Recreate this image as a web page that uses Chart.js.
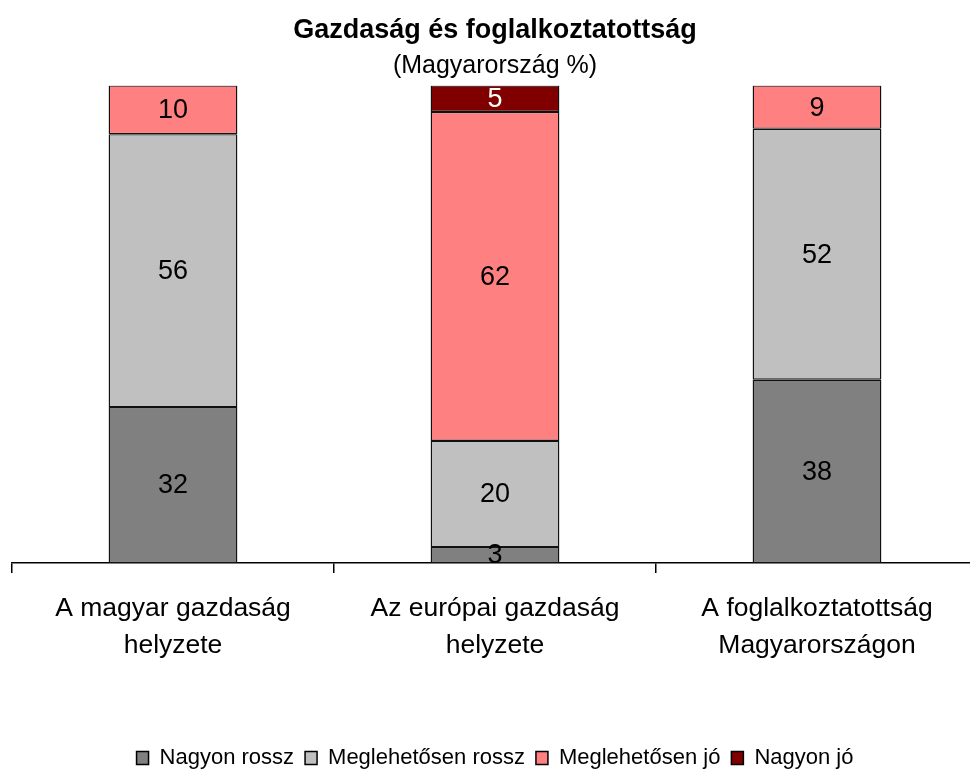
<!DOCTYPE html>
<html>
<head>
<meta charset="utf-8">
<script src="https://cdn.jsdelivr.net/npm/chart.js@4/dist/chart.umd.min.js"></script>
<style>
  html, body { margin: 0; padding: 0; background: #fff; overflow: hidden; }
  #wrap { width: 990px; height: 771px; }
</style>
</head>
<body>
<div id="wrap"><canvas id="chart" width="990" height="771"></canvas></div>
<script>
const categories = [
  ["A magyar gazdaság", "helyzete"],
  ["Az európai gazdaság", "helyzete"],
  ["A foglalkoztatottság", "Magyarországon"]
];
const seriesNames = ["Nagyon rossz", "Meglehetősen rossz", "Meglehetősen jó", "Nagyon jó"];
const nagyonRossz = [32, 3, 38];
const meglRossz = [56, 20, 52];
const meglJo = [10, 62, 9];
const nagyonJo = [0, 5, 0];
const colors = ["#808080", "#C0C0C0", "#FF8080", "#800000"];
const labelColors = ["#000", "#000", "#000", "#fff"];

const FONT = "'Liberation Sans', Arial, sans-serif";
const raw = [nagyonRossz, meglRossz, meglJo, nagyonJo];

// 100%-os halmozás: minden oszlop a saját összegére normálva
const totals = categories.map((c, i) => raw.reduce((s, arr) => s + arr[i], 0));

const datasets = raw.map((arr, k) => ({
  label: seriesNames[k],
  data: arr.map((v, i) => v / totals[i] * 100),
  rawValues: arr,
  backgroundColor: colors[k],
  borderColor: "#111",
  borderWidth: 1.4,
  borderSkipped: false,
  categoryPercentage: 1,
  barPercentage: 0.4
}));

// értékfeliratok a szegmensek közepére
const valueLabels = {
  id: "valueLabels",
  afterDatasetsDraw(chart) {
    const ctx = chart.ctx;
    ctx.save();
    ctx.font = "27px " + FONT;
    ctx.textAlign = "center";
    ctx.textBaseline = "middle";
    chart.data.datasets.forEach((ds, k) => {
      const meta = chart.getDatasetMeta(k);
      meta.data.forEach((bar, i) => {
        const v = ds.rawValues[i];
        if (!v) return;
        ctx.fillStyle = labelColors[k];
        ctx.fillText(String(v), bar.x, (bar.y + bar.base) / 2 + 1);
      });
    });
    ctx.restore();
  }
};

new Chart(document.getElementById("chart"), {
  type: "bar",
  data: { labels: categories, datasets },
  options: {
    responsive: false,
    animation: false,
    layout: { padding: { left: 12, right: 12, top: 0, bottom: -8 } },
    plugins: {
      title: {
        display: true,
        text: "Gazdaság és foglalkoztatottság",
        color: "#000",
        font: { family: FONT, size: 27, weight: "bold" },
        padding: { top: 14, bottom: 4 }
      },
      subtitle: {
        display: true,
        text: "(Magyarország %)",
        color: "#000",
        font: { family: FONT, size: 25 },
        padding: { top: 1, bottom: 4 }
      },
      legend: {
        position: "bottom",
        labels: {
          color: "#000",
          font: { family: FONT, size: 22 },
          boxWidth: 12,
          boxHeight: 13,
          padding: 11,
          generateLabels(chart) {
            return chart.data.datasets.map((ds, k) => ({
              text: ds.label,
              fillStyle: ds.backgroundColor,
              strokeStyle: "#000",
              lineWidth: 1.5,
              datasetIndex: k
            }));
          }
        }
      },
      tooltip: { enabled: false }
    },
    scales: {
      x: {
        stacked: true,
        offset: true,
        border: { color: "#000", width: 1.5 },
        grid: {
          offset: true,
          drawOnChartArea: false,
          drawTicks: true,
          tickLength: 10,
          color: "#000",
          lineWidth: 1.5
        },
        ticks: {
          color: "#000",
          font: { family: FONT, size: 26.5, lineHeight: 1.4 },
          padding: 17,
          maxRotation: 0
        },
        afterFit(scale) { scale.height = 173; }
      },
      y: {
        stacked: true,
        display: false,
        min: 0,
        max: 100
      }
    }
  },
  plugins: [valueLabels]
});
</script>
</body>
</html>
